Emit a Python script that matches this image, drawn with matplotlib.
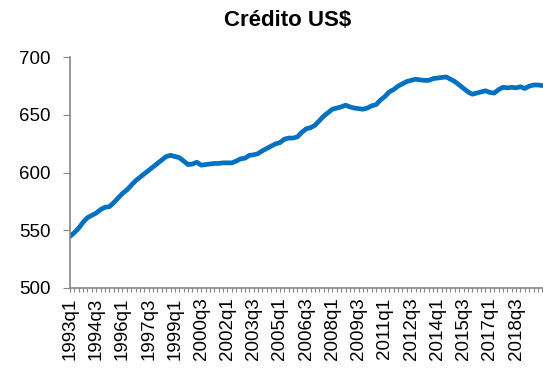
import matplotlib.pyplot as plt

# trimestres 1993q1 - 2020q1
years = range(1993, 2021)
quarters = [f"{y}q{q}" for y in years for q in range(1, 5)][:109]

credito = [
    544.7, 548, 552, 557, 561, 563, 565, 568, 570, 570.5,
    574, 578, 582, 585, 589, 593, 596, 599, 602, 605,
    608, 611, 614, 615, 614, 613, 610, 607, 607.5, 609,
    606.5, 607, 607.5, 608, 608, 608.5, 608.5, 608.5, 610, 612,
    612.5, 615, 615.5, 616.5, 619, 621, 623, 625, 626, 629,
    630, 630, 631, 635, 638, 639, 641, 645, 649, 652,
    655, 656, 657, 658.5, 657, 656, 655.5, 655, 656, 658,
    659, 663, 666, 670, 672, 675, 677, 679, 680, 681,
    680.5, 680, 680, 681.5, 682, 682.5, 683, 681, 679, 676,
    673, 670, 668, 669, 670, 671, 669.5, 669, 672, 674,
    673.5, 674, 673.5, 674.5, 673, 675, 676, 676, 675.5,
]

label_every = 6
last_label = 102  # 2018q3, el siguiente queda fuera de la imagen

plt.rcParams['font.family'] = ['Liberation Sans', 'DejaVu Sans']

fig = plt.figure(figsize=(5.43, 3.76), dpi=100)
ax = fig.add_axes([70 / 543, 88 / 376, 473 / 543, (288 - 57.3) / 376])

x = list(range(len(credito)))
ax.plot(x, credito, color='#0070C0', linewidth=3.4, solid_capstyle='round')

ax.set_xlim(0, 108.15)
ax.set_ylim(500, 700)
ax.set_yticks([500, 550, 600, 650, 700])

ax.set_xticks(x)
ax.set_xticklabels([q if (i % label_every == 0 and i <= last_label) else ''
                    for i, q in enumerate(quarters)],
                   rotation=90, fontsize=13.5)
ax.tick_params(axis='x', length=3, width=0.8, color='#868686', pad=4)
ax.tick_params(axis='y', length=5, width=0.8, color='#868686', pad=9, labelsize=13.5)

for s in ['top', 'right']:
    ax.spines[s].set_visible(False)
for s in ['left', 'bottom']:
    ax.spines[s].set_color('#868686')
    ax.spines[s].set_linewidth(1.2)

fig.text(288 / 543, 1 - 20 / 376, 'Crédito US$', ha='center', va='center',
         fontsize=16, fontweight='bold')

fig.savefig('out.png', dpi=100)
